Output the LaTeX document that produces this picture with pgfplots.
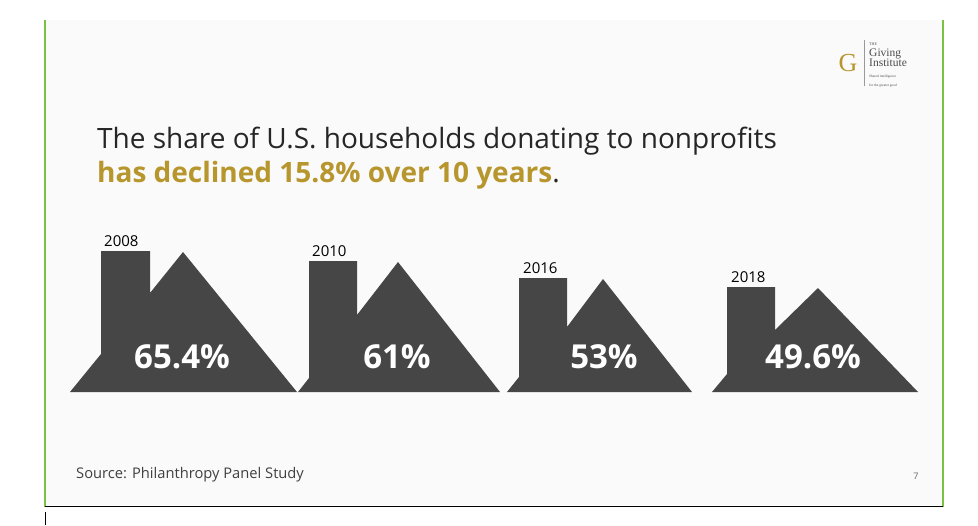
\documentclass[border=0pt]{standalone}
\usepackage{pgfplots}
\pgfplotsset{compat=1.18}
\usepackage{fontspec}
\setmainfont{Open Sans}
\newfontfamily\seriff{Liberation Serif}
\definecolor{house}{HTML}{464646}
\definecolor{gold}{HTML}{B8962E}
\definecolor{grn}{HTML}{7CC242}
\begin{document}
\begin{tikzpicture}
\begin{axis}[scale only axis, width=978pt, height=525pt, xmin=0, xmax=978, ymin=0, ymax=525,
  y dir=reverse, axis lines=none, clip=false, ticks=none]
\fill[white] (axis cs:0,0) rectangle (axis cs:978,525);
\fill[white!98!black] (axis cs:46,20) rectangle (axis cs:942,505);
% houses
\addplot[fill=house, draw=none] coordinates {(70,392) (101,354) (101,251) (150,251) (150,293) (183,252) (297,392)} -- cycle;
\addplot[fill=house, draw=none] coordinates {(298,392) (309,378) (309,261) (357,261) (357,315) (398,262) (500,392)} -- cycle;
\addplot[fill=house, draw=none] coordinates {(507,392) (519,377) (519,278) (567,278) (567,327) (603,279) (692,392)} -- cycle;
\addplot[fill=house, draw=none] coordinates {(712,392) (727,374) (727,287) (775,287) (775,330) (818,288) (918,392)} -- cycle;
% frame
\draw[grn, line width=2.5pt] (axis cs:45,20) -- (axis cs:45,507);
\draw[grn, line width=2.5pt] (axis cs:943,20) -- (axis cs:943,507);
\draw[black, line width=1pt] (axis cs:45,506) -- (axis cs:943,506);
\draw[black, line width=0.6pt] (axis cs:45,512) -- (axis cs:45,525);
% text
\node[anchor=base west, inner sep=0pt, font=\fontsize{28}{30}\selectfont, text=black!85] at (axis cs:97,148) {The share of U.S. households donating to nonprofits};
\node[anchor=base west, inner sep=0pt, font=\fontsize{28}{30}\selectfont\bfseries, text=gold] at (axis cs:97,182) {has declined 15.8\% over 10 years\textcolor{black!85}{\mdseries.}};
\node[anchor=base west, inner sep=0pt, font=\fontsize{15}{16}\selectfont] at (axis cs:104,246) {2008};
\node[anchor=base west, inner sep=0pt, font=\fontsize{15}{16}\selectfont] at (axis cs:312,256) {2010};
\node[anchor=base west, inner sep=0pt, font=\fontsize{15}{16}\selectfont] at (axis cs:523,273) {2016};
\node[anchor=base west, inner sep=0pt, font=\fontsize{15}{16}\selectfont] at (axis cs:731,282) {2018};
\node[anchor=base, inner sep=0pt, font=\fontsize{33}{36}\selectfont\bfseries, text=white] at (axis cs:182,368) {65.4\%};
\node[anchor=base, inner sep=0pt, font=\fontsize{33}{36}\selectfont\bfseries, text=white] at (axis cs:397,368) {61\%};
\node[anchor=base, inner sep=0pt, font=\fontsize{33}{36}\selectfont\bfseries, text=white] at (axis cs:604,368) {53\%};
\node[anchor=base, inner sep=0pt, font=\fontsize{33}{36}\selectfont\bfseries, text=white] at (axis cs:813,368) {49.6\%};
\node[anchor=base west, inner sep=0pt, font=\fontsize{14.7}{16}\selectfont, text=black!75] at (axis cs:76,478) {Source: Philanthropy Panel Study};
\node[anchor=base, inner sep=0pt, font=\fontsize{9}{10}\selectfont, text=black!60] at (axis cs:916,479) {7};
% logo
\node[font=\seriff\fontsize{26}{26}\selectfont, text=gold] at (axis cs:848,63) {G};
\draw[black!40, line width=0.5pt] (axis cs:864,40) -- (axis cs:864,86);
\node[anchor=north west, align=left, inner sep=0pt, font=\seriff, text=black!70] at (axis cs:869,43) {{\fontsize{4}{4}\selectfont THE}\\[-1pt]{\fontsize{11.5}{10}\selectfont Giving}\\[-2pt]{\fontsize{11.5}{10}\selectfont Institute}\\[-1pt]{\fontsize{3.5}{4}\selectfont Shared intelligence}\\[-3pt]{\fontsize{3.5}{4}\selectfont for the greater good}};
\end{axis}
\end{tikzpicture}
\end{document}
